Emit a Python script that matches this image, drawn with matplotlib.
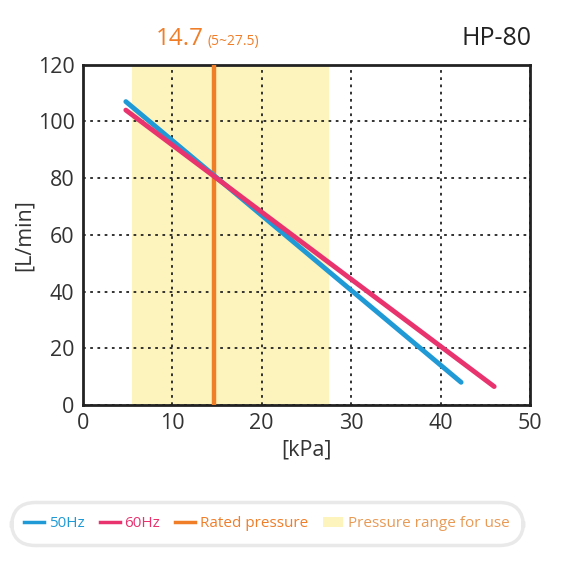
import matplotlib
matplotlib.use('Agg')
import matplotlib.pyplot as plt
from matplotlib.patches import Patch
from matplotlib.lines import Line2D

plt.rcParams['font.family'] = ['Open Sans', 'DejaVu Sans']

# data
hz50_kpa = [4.8, 42.3]
hz50_flow = [107, 8]
hz60_kpa = [4.8, 46.0]
hz60_flow = [104, 6.5]
rated_kpa = 14.7
range_kpa = [5.5, 27.5]
x_ticks = [0, 10, 20, 30, 40, 50]
y_ticks = [0, 20, 40, 60, 80, 100, 120]

blue = '#1f9ad6'
pink = '#e8336f'
orange = '#f07d28'
yellow = '#fdf4bd'

fig = plt.figure(figsize=(5.68, 5.68), dpi=100)
ax = fig.add_axes([0.146, 0.287, 0.787, 0.599])

ax.axvspan(range_kpa[0], range_kpa[1], color=yellow, lw=0, zorder=0)
ax.grid(True, color='#222222', linestyle=(0, (1.5, 2.5)), linewidth=1.3, zorder=1)
ax.axvline(rated_kpa, color=orange, lw=3.2, zorder=3)
ax.plot(hz50_kpa, hz50_flow, color=blue, lw=3.5, solid_capstyle='round', zorder=4)
ax.plot(hz60_kpa, hz60_flow, color=pink, lw=3.5, solid_capstyle='round', zorder=5)

ax.set_xlim(0, 50)
ax.set_ylim(0, 120)
ax.set_xticks(x_ticks)
ax.set_yticks(y_ticks)
ax.tick_params(length=0, labelsize=15.5, colors='#333333', pad=6)
for s in ax.spines.values():
    s.set_linewidth(2)
    s.set_color('#222222')
ax.set_xlabel('[kPa]', fontsize=15.5, color='#333333', labelpad=4)
ax.set_ylabel('[L/min]', fontsize=15.5, color='#333333', labelpad=2)

fig.text(0.275, 0.92, '14.7', color=orange, fontsize=17.5, ha='left', va='baseline')
fig.text(0.366, 0.92, '(5~27.5)', color=orange, fontsize=10, ha='left', va='baseline')
fig.text(0.935, 0.92, 'HP-80', color='#222222', fontsize=18, ha='right', va='baseline')

handles = [Line2D([], [], color=blue, lw=2.5),
           Line2D([], [], color=pink, lw=2.5),
           Line2D([], [], color=orange, lw=2.5),
           Patch(facecolor=yellow, edgecolor='none')]
labels = ['50Hz', '60Hz', 'Rated pressure', 'Pressure range for use']
leg = fig.legend(handles, labels, loc='center', bbox_to_anchor=(0.47, 0.078), ncol=4,
                 frameon=True, fontsize=11, handlelength=1.3, handletextpad=0.3,
                 columnspacing=1.0, fancybox=True, borderpad=0.6,
                 labelcolor=[blue, pink, orange, '#e89a55'])
leg.get_frame().set_edgecolor('#e4e4e4')
leg.get_frame().set_linewidth(2.5)
leg.get_frame().set_boxstyle('round', pad=0.3, rounding_size=1.6)

fig.savefig('out.png', dpi=100)
